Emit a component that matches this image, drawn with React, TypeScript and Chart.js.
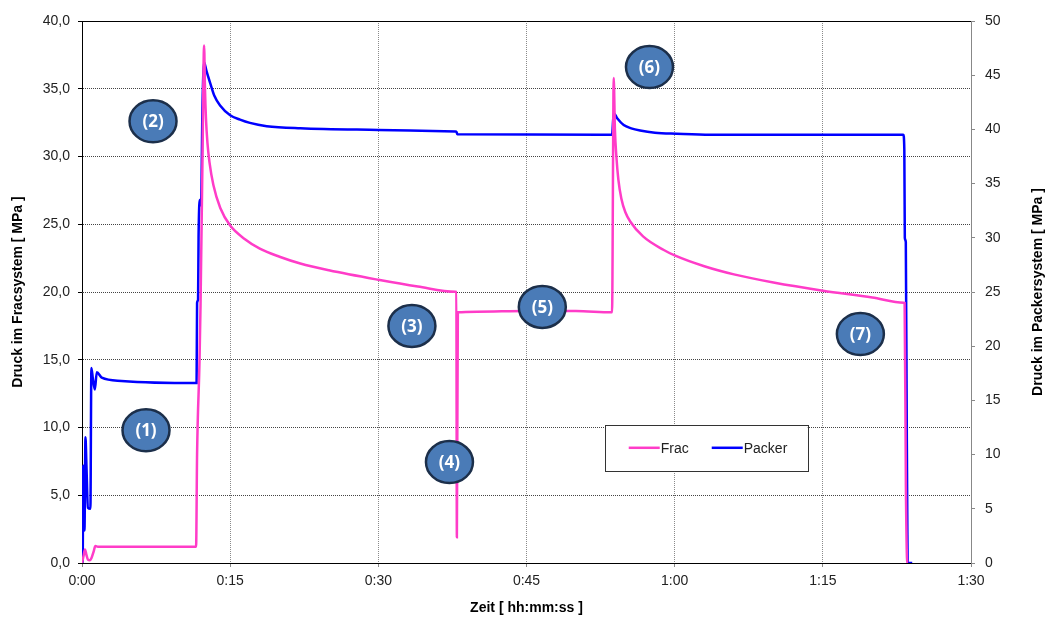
import React, { useEffect, useRef } from 'react';
import { Chart, registerables } from 'chart.js';

Chart.register(...registerables);

// time in minutes, pressure in MPa
const fracTime = [0, 0.15, 0.3, 0.45, 0.6, 0.8, 0.95, 1.2, 1.35, 1.6, 11.55, 11.65, 11.9, 12.0, 12.2, 12.36, 12.45, 12.55, 12.7, 12.9, 13.3, 14.0, 15.0, 16.5, 18.0, 20.0, 22.1, 25.0, 30.0, 34.0, 37.8, 37.9, 37.95, 38.05, 40.0, 45.0, 50.0, 53.6, 53.66, 53.83, 53.95, 54.1, 54.3, 54.6, 55.0, 55.5, 56.8, 58.9, 60.0, 63.0, 66.0, 70.0, 75.0, 80.0, 83.2, 83.28, 83.41, 83.55, 83.62];
const fracValue = [0, 0.5, 1.0, 0.6, 0.25, 0.2, 0.35, 0.9, 1.25, 1.2, 1.2, 8, 15, 19, 30, 38.2, 35.0, 32.8, 31.0, 29.6, 27.9, 26.2, 24.9, 23.9, 23.2, 22.6, 22.1, 21.6, 20.9, 20.4, 20.01, 20.0, 1.9, 18.5, 18.55, 18.6, 18.6, 18.5, 18.5, 35.8, 32.0, 30.0, 28.3, 26.9, 25.9, 25.2, 24.1, 23.1, 22.7, 21.9, 21.3, 20.7, 20.1, 19.6, 19.21, 19.2, 5.6, 0, 0];

const packerTime = [0, 0.07, 0.12, 0.25, 0.35, 0.45, 0.6, 0.85, 0.95, 1.1, 1.3, 1.5, 2.0, 4.0, 11.6, 11.65, 11.75, 11.8, 11.95, 12.05, 12.2, 12.36, 12.6, 12.97, 13.4, 13.98, 15.0, 16.0, 17.0, 18.7, 22.1, 30.0, 37.8, 37.9, 38.0, 53.66, 53.83, 54.2, 54.84, 55.6, 56.5, 58.0, 60.2, 63.6, 83.15, 83.25, 83.3, 83.4, 83.5, 83.6, 84.05];
const packerValue = [0, 0, 9, 3, 11.6, 9, 5.1, 5, 18, 17, 16, 17.6, 17.1, 16.8, 16.6, 24, 24.3, 30, 33.5, 33, 42.3, 46.2, 45.4, 44.3, 43.1, 42.2, 41.3, 40.9, 40.6, 40.3, 40.1, 39.95, 39.81, 39.8, 39.55, 39.5, 41.5, 41.0, 40.4, 40.1, 39.9, 39.7, 39.6, 39.5, 39.5, 38.1, 30, 29.6, 12, 0, 0];

const seriesNames = ['Frac', 'Packer'];
const seriesColors = ['#FF3CC8', '#0000FF'];

const markerLabels = ['(1)', '(2)', '(3)', '(4)', '(5)', '(6)', '(7)'];
const markerTime = [6.48, 7.19, 33.4, 37.2, 46.6, 57.45, 78.8];
const markerValue = [9.8, 32.6, 17.5, 7.45, 18.9, 36.6, 16.9];

const xTicksStep = 15;
const leftTitle = 'Druck im Fracsystem [ MPa ]';
const rightTitle = 'Druck im Packersystem [ MPa ]';
const xTitle = 'Zeit [ hh:mm:ss ]';

const fmtTime = (v: number) => {
  const h = Math.floor(v / 60);
  const m = Math.round(v - h * 60);
  return `${h}:${m < 10 ? '0' + m : m}`;
};

const overlay = {
  id: 'overlay',
  afterDatasetsDraw(chart: any) {
    const { ctx, chartArea, scales } = chart;
    const x = scales.x;
    const y = scales.y;
    ctx.save();
    ctx.strokeStyle = '#000';
    ctx.lineWidth = 1;
    ctx.beginPath();
    ctx.moveTo(chartArea.left, chartArea.top + 0.5);
    ctx.lineTo(chartArea.right, chartArea.top + 0.5);
    ctx.stroke();
    markerLabels.forEach((lab, i) => {
      const cx = x.getPixelForValue(markerTime[i]);
      const cy = y.getPixelForValue(markerValue[i]);
      ctx.beginPath();
      ctx.ellipse(cx, cy, 23.5, 21, 0, 0, Math.PI * 2);
      ctx.fillStyle = '#4A7BB7';
      ctx.fill();
      ctx.lineWidth = 2.5;
      ctx.strokeStyle = '#1C2F4A';
      ctx.stroke();
      ctx.fillStyle = '#fff';
      ctx.font = 'bold 17px "Open Sans", "Noto Sans", sans-serif';
      ctx.textAlign = 'center';
      ctx.textBaseline = 'middle';
      ctx.fillText(lab, cx, cy + 1);
    });
    const lx = chartArea.left + (chartArea.right - chartArea.left) * 0.588;
    const ly = chartArea.top + (chartArea.bottom - chartArea.top) * 0.745;
    const lw = 203;
    const lh = 46;
    ctx.fillStyle = '#fff';
    ctx.fillRect(lx, ly, lw, lh);
    ctx.strokeStyle = '#333';
    ctx.lineWidth = 1;
    ctx.strokeRect(Math.round(lx) + 0.5, Math.round(ly) + 0.5, lw, lh);
    ctx.font = '14px "Liberation Sans", Arial, sans-serif';
    ctx.textAlign = 'left';
    ctx.textBaseline = 'middle';
    const offs = [24, 107];
    seriesNames.forEach((n, i) => {
      const sx = lx + offs[i];
      const sy = ly + 23;
      ctx.strokeStyle = seriesColors[i];
      ctx.lineWidth = 2.5;
      ctx.beginPath();
      ctx.moveTo(sx, sy);
      ctx.lineTo(sx + 31, sy);
      ctx.stroke();
      ctx.fillStyle = '#222';
      ctx.fillText(n, sx + 32, sy + 1);
    });
    ctx.restore();
  },
  afterDraw(chart: any) {
    const { ctx, chartArea } = chart;
    const midY = (chartArea.top + chartArea.bottom) / 2;
    ctx.save();
    ctx.fillStyle = '#000';
    ctx.font = 'bold 14px "Liberation Sans", Arial, sans-serif';
    ctx.textAlign = 'center';
    ctx.textBaseline = 'middle';
    ctx.save();
    ctx.translate(18, midY);
    ctx.rotate(-Math.PI / 2);
    ctx.fillText(leftTitle, 0, 0);
    ctx.restore();
    ctx.save();
    ctx.translate(1038, midY);
    ctx.rotate(-Math.PI / 2);
    ctx.fillText(rightTitle, 0, 0);
    ctx.restore();
    ctx.fillText(xTitle, (chartArea.left + chartArea.right) / 2, 608);
    ctx.restore();
  },
};

export default function App() {
  const ref = useRef<HTMLCanvasElement | null>(null);
  useEffect(() => {
    document.body.style.margin = '0';
    if (!ref.current) return;
    const tickFont = { family: '"Liberation Sans", Arial, sans-serif', size: 14 };
    const chart = new Chart(ref.current, {
      type: 'line',
      data: {
        datasets: [
          {
            label: seriesNames[0],
            data: fracTime.map((t, i) => ({ x: t, y: fracValue[i] })),
            borderColor: seriesColors[0],
            backgroundColor: seriesColors[0],
            borderWidth: 2.5,
            pointRadius: 0,
            cubicInterpolationMode: 'monotone',
            yAxisID: 'y',
          },
          {
            label: seriesNames[1],
            data: packerTime.map((t, i) => ({ x: t, y: packerValue[i] })),
            borderColor: seriesColors[1],
            backgroundColor: seriesColors[1],
            borderWidth: 2.5,
            pointRadius: 0,
            cubicInterpolationMode: 'monotone',
            yAxisID: 'y2',
          },
        ],
      },
      options: {
        animation: false,
        responsive: false,
        layout: { padding: { top: 21, left: 0, right: 0, bottom: 0 } },
        plugins: { legend: { display: false }, tooltip: { enabled: false } },
        scales: {
          x: {
            type: 'linear',
            min: 0,
            max: 90,
            afterFit: (s: any) => { s.height = 58; },
            ticks: { stepSize: xTicksStep, callback: (v: any) => fmtTime(Number(v)), font: tickFont, color: '#222', padding: 6, maxRotation: 0 },
            grid: { color: '#8a8a8a', tickColor: '#8a8a8a', tickLength: 4, lineWidth: 1 },
            border: { color: '#000', width: 1, dash: [1, 1] },
          },
          y: {
            position: 'left',
            min: 0,
            max: 40,
            afterFit: (s: any) => { s.width = 82; },
            ticks: { stepSize: 5, callback: (v: any) => Number(v).toFixed(1).replace('.', ','), font: tickFont, color: '#222', padding: 8 },
            grid: { color: '#444', tickColor: '#000', tickLength: 4, lineWidth: 1 },
            border: { color: '#000', width: 1, dash: [1, 1] },
          },
          y2: {
            position: 'right',
            min: 0,
            max: 50,
            afterFit: (s: any) => { s.width = 75; },
            ticks: { stepSize: 5, font: tickFont, color: '#222', padding: 10 },
            grid: { drawOnChartArea: false, tickColor: '#888', tickLength: 4 },
            border: { color: '#888', width: 1 },
          },
        },
      },
      plugins: [overlay],
    } as any);
    return () => chart.destroy();
  }, []);
  return (
    <div style={{ width: 1046, height: 621 }}>
      <canvas ref={ref} width={1046} height={621} />
    </div>
  );
}
